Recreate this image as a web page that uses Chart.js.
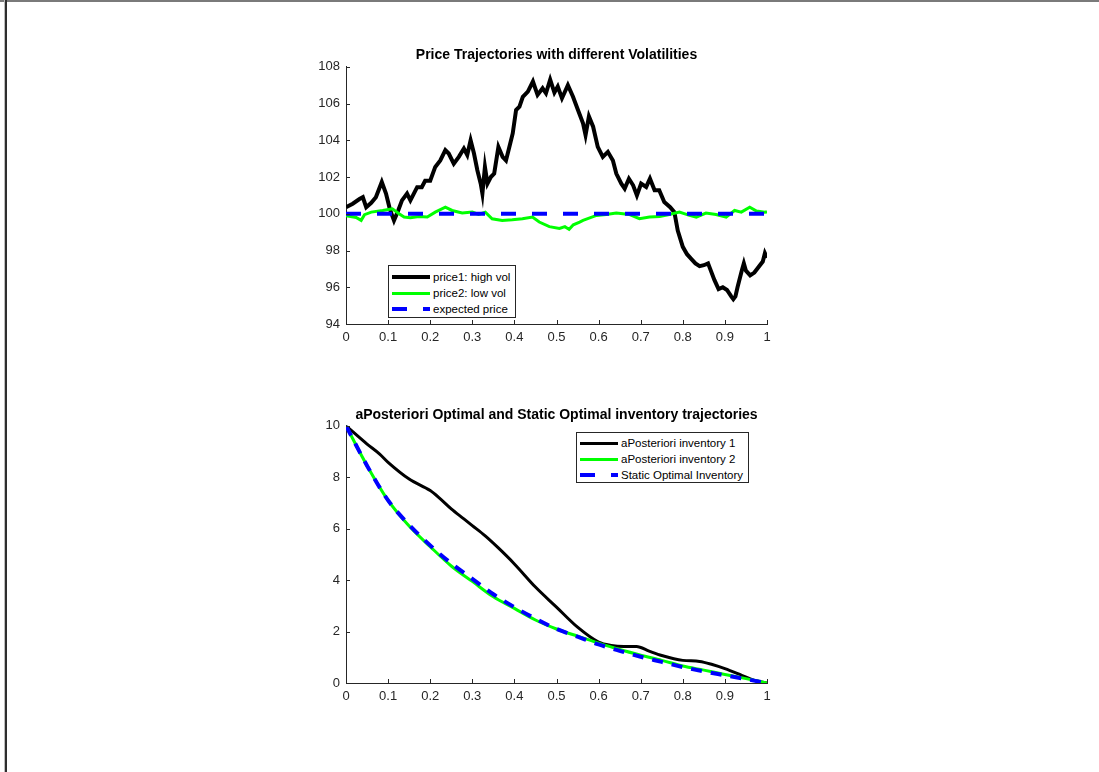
<!DOCTYPE html>
<html>
<head>
<meta charset="utf-8">
<script src="https://cdn.jsdelivr.net/npm/chart.js@4.4.1/dist/chart.umd.min.js"></script>
<style>
  html, body { margin: 0; padding: 0; background: #fff; }
  body { width: 1099px; height: 772px; position: relative; overflow: hidden; font-family: "Liberation Sans", Arial, Helvetica, sans-serif; }
  #frameTop { position: absolute; left: 0; top: 0; width: 1099px; height: 2px; background: #7a7a7a; }
  #frameLeft { position: absolute; left: 4px; top: 0; width: 2px; height: 772px; background: #2e2e2e; border-left: 1px solid #bdbdbd; }
  .box { position: absolute; }
  .legend { position: absolute; background: #fff; border: 1px solid #262626; box-sizing: border-box; font-size: 11.5px; color: #000; }
  .legend .row { position: absolute; left: 0; height: 14px; line-height: 14px; white-space: nowrap; }
  .legend .sample { position: absolute; top: 5px; height: 4px; }
  .legend .lbl { position: absolute; top: 0; }
</style>
</head>
<body>
<div id="frameTop"></div>
<div id="frameLeft"></div>
<div class="box" style="left:296px;top:43px;width:490px;height:311px;"><canvas id="c1" width="490" height="311"></canvas></div>
<div class="box" style="left:296px;top:403px;width:490px;height:310px;"><canvas id="c2" width="490" height="310"></canvas></div>
<div id="leg1" class="legend" style="left:388px;top:265px;width:128px;height:53px;"></div>
<div id="leg2" class="legend" style="left:576px;top:432px;width:173px;height:51px;"></div>
<script>
// ---------- Data ----------
const xTicks = [0, 0.1, 0.2, 0.3, 0.4, 0.5, 0.6, 0.7, 0.8, 0.9, 1];
const xTickLabels = ["0", "0.1", "0.2", "0.3", "0.4", "0.5", "0.6", "0.7", "0.8", "0.9", "1"];
const priceTicks = [94, 96, 98, 100, 102, 104, 106, 108];
const invTicks = [0, 2, 4, 6, 8, 10];

const title1 = "Price Trajectories with different Volatilities";
const title2 = "aPosteriori Optimal and Static Optimal inventory trajectories";

const price1Label = "price1: high vol";
const price1T = [0,0.016,0.032,0.04,0.048,0.06,0.071,0.085,0.095,0.104,0.114,0.124,0.133,0.145,0.153,0.169,0.18,0.188,0.2,0.212,0.224,0.236,0.244,0.256,0.268,0.28,0.288,0.296,0.304,0.312,0.32,0.324,0.33,0.336,0.344,0.352,0.362,0.372,0.38,0.388,0.396,0.404,0.412,0.42,0.432,0.444,0.455,0.467,0.475,0.485,0.495,0.503,0.513,0.527,0.539,0.551,0.563,0.569,0.577,0.587,0.598,0.61,0.622,0.634,0.642,0.654,0.662,0.672,0.682,0.691,0.701,0.713,0.722,0.733,0.744,0.756,0.77,0.78,0.788,0.8,0.81,0.82,0.83,0.84,0.85,0.86,0.865,0.875,0.885,0.895,0.905,0.915,0.92,0.925,0.93,0.94,0.945,0.95,0.96,0.97,0.98,0.99,0.995,1];
const price1V = [100.36,100.55,100.8,100.9,100.36,100.6,100.9,101.73,101.1,100.27,99.63,100.18,100.73,101.1,100.73,101.45,101.45,101.8,101.8,102.55,102.9,103.46,103.28,102.73,103.1,103.55,103.2,104.0,103.28,102.37,101.64,101.1,102.55,101.64,102.0,102.19,103.64,103.1,102.9,103.64,104.37,105.65,105.83,106.37,106.65,107.2,106.47,106.83,106.56,107.3,106.6,106.93,106.29,107.0,106.38,105.65,104.92,104.28,105.3,104.74,103.64,103.1,103.37,102.9,102.19,101.64,101.37,101.91,101.55,101.0,101.64,101.46,101.91,101.28,101.28,100.64,100.36,100.09,99.09,98.2,97.8,97.55,97.3,97.15,97.2,97.3,97.0,96.4,95.9,96.0,95.85,95.5,95.35,95.5,96.0,96.9,97.3,96.9,96.65,96.8,97.1,97.4,97.85,97.6];

const price2Label = "price2: low vol";
const price2T = [0,0.024,0.036,0.044,0.06,0.087,0.11,0.126,0.138,0.153,0.173,0.193,0.212,0.236,0.252,0.276,0.3,0.315,0.331,0.347,0.371,0.395,0.419,0.443,0.459,0.483,0.507,0.52,0.53,0.54,0.555,0.563,0.595,0.618,0.642,0.674,0.697,0.721,0.745,0.768,0.792,0.816,0.832,0.855,0.879,0.903,0.923,0.939,0.959,0.975,0.995,1];
const price2V = [99.9,99.8,99.64,99.95,100.09,100.18,100.27,100.0,99.82,99.78,99.85,99.82,100.09,100.36,100.18,100.04,100.09,99.96,100.09,99.73,99.64,99.67,99.73,99.82,99.55,99.3,99.2,99.3,99.15,99.4,99.55,99.64,99.91,99.96,100.04,99.96,99.73,99.82,99.85,99.96,100.09,99.91,99.82,100.04,99.96,99.82,100.18,100.09,100.36,100.15,100.09,100.1];

const expectedLabel = "expected price";
const expectedT = [0, 1];
const expectedV = [100, 100];

const invT = [0,0.05,0.1,0.15,0.2,0.25,0.3,0.35,0.4,0.45,0.5,0.55,0.6,0.65,0.7,0.75,0.8,0.85,0.9,0.95,1];
const inv1Label = "aPosteriori inventory 1";
const inv1T = [0,0.05,0.08,0.1,0.15,0.2,0.22,0.25,0.28,0.3,0.33,0.36,0.4,0.45,0.5,0.55,0.6,0.63,0.66,0.69,0.72,0.75,0.8,0.84,0.87,0.9,0.94,0.97,1];
const inv1V = [10,9.29,8.9,8.58,7.93,7.48,7.22,6.77,6.38,6.12,5.73,5.28,4.63,3.73,2.95,2.17,1.59,1.46,1.42,1.42,1.24,1.07,0.88,0.84,0.72,0.56,0.3,0.1,0];
const inv2Label = "aPosteriori inventory 2";
const inv2V = [10,8.45,7.1,6.1,5.3,4.55,3.95,3.35,2.9,2.45,2.1,1.82,1.55,1.3,1.08,0.88,0.66,0.5,0.33,0.17,0];
const staticLabel = "Static Optimal Inventory";
const staticV = [10,8.45,7.1,6.15,5.35,4.65,4.05,3.45,2.95,2.5,2.1,1.8,1.5,1.25,1.02,0.82,0.62,0.45,0.3,0.15,0];

// ---------- Helpers ----------
const FONT = '"Liberation Sans", Arial, Helvetica, sans-serif';
const AXIS_COLOR = '#262626';
const pts = (t, v) => t.map((x, i) => ({ x: x, y: v[i] }));

const inwardTicks = {
  id: 'inwardTicks',
  afterDatasetsDraw(chart) {
    const ctx = chart.ctx;
    const xs = chart.scales.x, ys = chart.scales.y;
    const a = chart.chartArea;
    ctx.save();
    ctx.strokeStyle = AXIS_COLOR;
    ctx.lineWidth = 1;
    ctx.beginPath();
    xs.ticks.forEach(t => {
      const px = Math.round(xs.getPixelForValue(t.value)) + 0.5;
      ctx.moveTo(px, a.bottom);
      ctx.lineTo(px, a.bottom - 4);
    });
    ys.ticks.forEach(t => {
      const py = Math.round(ys.getPixelForValue(t.value)) + 0.5;
      ctx.moveTo(a.left, py);
      ctx.lineTo(a.left + 4, py);
    });
    ctx.stroke();
    ctx.restore();
  }
};

function makeChart(id, title, datasets, yTicks, titlePad) {
  return new Chart(document.getElementById(id), {
    type: 'line',
    data: { datasets: datasets },
    options: {
      responsive: false,
      animation: false,
      devicePixelRatio: 1,
      layout: { padding: { left: 0, right: 19, top: 0, bottom: 0 } },
      elements: { point: { radius: 0 } },
      plugins: {
        legend: { display: false },
        tooltip: { enabled: false },
        title: {
          display: true, text: title, color: '#000', fullSize: false,
          font: { family: FONT, size: 14, weight: 'bold' },
          padding: titlePad
        }
      },
      scales: {
        x: {
          type: 'linear', min: 0, max: 1,
          afterBuildTicks: s => { s.ticks = xTicks.map(v => ({ value: v })); },
          afterFit: s => { s.height = 30; },
          grid: { display: true, drawOnChartArea: false, drawTicks: false, color: AXIS_COLOR },
          border: { display: true, color: AXIS_COLOR, width: 1 },
          ticks: {
            color: AXIS_COLOR, padding: 6, maxRotation: 0, font: { family: FONT, size: 13 },
            callback: (v) => { const i = xTicks.indexOf(v); return i >= 0 ? xTickLabels[i] : ''; }
          }
        },
        y: {
          type: 'linear', min: yTicks[0], max: yTicks[yTicks.length - 1],
          afterBuildTicks: s => { s.ticks = yTicks.map(v => ({ value: v })); },
          afterFit: s => { s.width = 50; },
          grid: { display: true, drawOnChartArea: false, drawTicks: false, color: AXIS_COLOR },
          border: { display: true, color: AXIS_COLOR, width: 1 },
          ticks: { color: AXIS_COLOR, padding: 6, font: { family: FONT, size: 13 } }
        }
      }
    },
    plugins: [inwardTicks]
  });
}

const ds1 = [
  { label: price1Label, data: pts(price1T, price1V), borderColor: '#000000', borderWidth: 4, order: 3, tension: 0 },
  { label: price2Label, data: pts(price2T, price2V), borderColor: '#00ff00', borderWidth: 3, order: 2, tension: 0 },
  { label: expectedLabel, data: pts(expectedT, expectedV), borderColor: '#0000ff', borderWidth: 4, borderDash: [15, 16], order: 1 }
];
const ds2 = [
  { label: inv1Label, data: pts(inv1T, inv1V), borderColor: '#000000', borderWidth: 3, order: 3, cubicInterpolationMode: 'monotone' },
  { label: inv2Label, data: pts(invT, inv2V), borderColor: '#00ff00', borderWidth: 3, order: 2, cubicInterpolationMode: 'monotone' },
  { label: staticLabel, data: pts(invT, staticV), borderColor: '#0000ff', borderWidth: 4, borderDash: [11, 9], order: 1, cubicInterpolationMode: 'monotone' }
];

makeChart('c1', title1, ds1, priceTicks, { top: 4, bottom: 3 });
makeChart('c2', title2, ds2, invTicks, { top: 4, bottom: 2 });

function buildLegend(elId, datasets, rowTops) {
  const el = document.getElementById(elId);
  datasets.forEach((d, i) => {
    const row = document.createElement('div');
    row.className = 'row';
    row.style.top = rowTops[i] + 'px';
    const s = document.createElement('div');
    s.className = 'sample';
    s.style.left = '3px';
    s.style.width = '38px';
    s.style.height = d.borderWidth + 'px';
    s.style.top = (7 - d.borderWidth / 2) + 'px';
    if (d.borderDash) {
      s.style.background = 'linear-gradient(to right, ' + d.borderColor + ' 0 15px, transparent 15px 31px, ' + d.borderColor + ' 31px 38px)';
    } else {
      s.style.background = d.borderColor;
    }
    const l = document.createElement('span');
    l.className = 'lbl';
    l.style.left = '44px';
    l.textContent = d.label;
    row.appendChild(s);
    row.appendChild(l);
    el.appendChild(row);
  });
}
buildLegend('leg1', ds1, [4, 20, 36]);
buildLegend('leg2', ds2, [3, 19, 35]);
</script>
</body>
</html>
